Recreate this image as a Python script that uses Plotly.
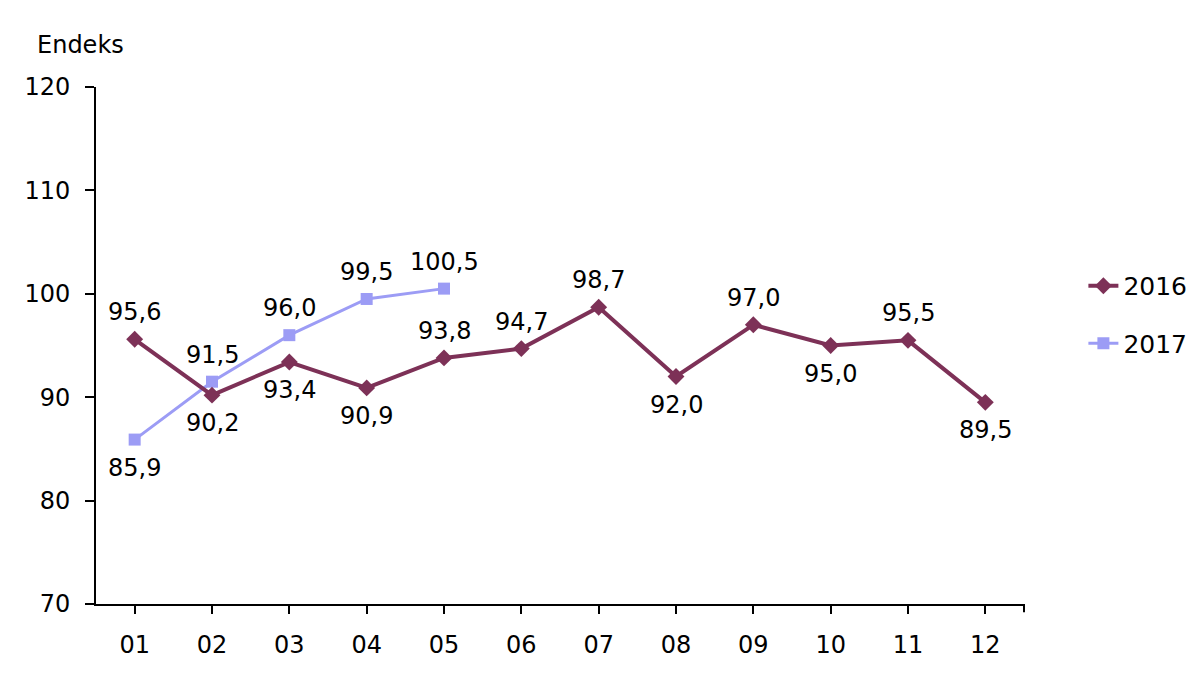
import plotly.graph_objects as go

months = ["01", "02", "03", "04", "05", "06", "07", "08", "09", "10", "11", "12"]
y2016 = [95.6, 90.2, 93.4, 90.9, 93.8, 94.7, 98.7, 92.0, 97.0, 95.0, 95.5, 89.5]
y2017 = [85.9, 91.5, 96.0, 99.5, 100.5]
pos2016 = ["up", "down", "down", "down", "up", "up", "up", "down", "up", "down", "up", "down"]
pos2017 = ["down", "up", "up", "up", "up"]
yticks = [70, 80, 90, 100, 110, 120]

C16 = "#7d3157"
C17 = "#9c9cf5"
FONT = "DejaVu Sans"
FS = 24

fig = go.Figure()
fig.add_trace(go.Scatter(
    x=months[:len(y2017)], y=y2017, name="2017", mode="lines+markers",
    line=dict(color=C17, width=3),
    marker=dict(symbol="square", size=12, color=C17),
    legendgroup="b", legendrank=2,
))
fig.add_trace(go.Scatter(
    x=months, y=y2016, name="2016", mode="lines+markers",
    line=dict(color=C16, width=4),
    marker=dict(symbol="diamond", size=13, color=C16),
    legendgroup="a", legendrank=1,
))


def fmt(v):
    return f"{v:.1f}".replace(".", ",")


annotations = []
for i, (v, p) in enumerate(zip(y2016, pos2016)):
    annotations.append(dict(x=i, y=v, xref="x", yref="y", text=fmt(v), showarrow=False,
                            yshift=27 if p == "up" else -28,
                            font=dict(family=FONT, size=FS, color="black")))
for i, (v, p) in enumerate(zip(y2017, pos2017)):
    annotations.append(dict(x=i, y=v, xref="x", yref="y", text=fmt(v), showarrow=False,
                            yshift=27 if p == "up" else -28,
                            font=dict(family=FONT, size=FS, color="black")))
annotations.append(dict(x=-0.066, y=1.081, xref="paper", yref="paper", text="Endeks",
                        showarrow=False, xanchor="left", yanchor="middle",
                        font=dict(family=FONT, size=FS, color="black")))

fig.update_layout(
    width=1200, height=682,
    margin=dict(l=96, r=176, t=87, b=78, autoexpand=False),
    paper_bgcolor="white", plot_bgcolor="white",
    font=dict(family=FONT, size=FS, color="black"),
    showlegend=True,
    legend=dict(x=1.064, y=0.56, xanchor="left", yanchor="middle",
                traceorder="grouped", tracegroupgap=22,
                font=dict(family=FONT, size=FS + 1, color="black"),
                bgcolor="rgba(0,0,0,0)"),
    annotations=annotations,
    shapes=[dict(type="line", xref="paper", yref="paper", x0=1, x1=1, y0=0, y1=-0.016,
                 line=dict(color="black", width=2))],
)
fig.update_xaxes(
    type="category", categoryorder="array", categoryarray=months,
    range=[-0.5, len(months) - 0.5],
    showline=True, linecolor="black", linewidth=2,
    ticks="outside", ticklen=8, tickwidth=2, tickcolor="black",
    showgrid=False, zeroline=False, ticklabelstandoff=10,
    tickfont=dict(family=FONT, size=FS, color="black"),
)
fig.update_yaxes(
    range=[70, 120], tickvals=yticks,
    showline=True, linecolor="black", linewidth=2,
    ticks="outside", ticklen=9, tickwidth=2, tickcolor="black",
    showgrid=False, zeroline=False, ticklabelstandoff=10,
    tickfont=dict(family=FONT, size=FS, color="black"),
)

fig.write_html("out.html")
